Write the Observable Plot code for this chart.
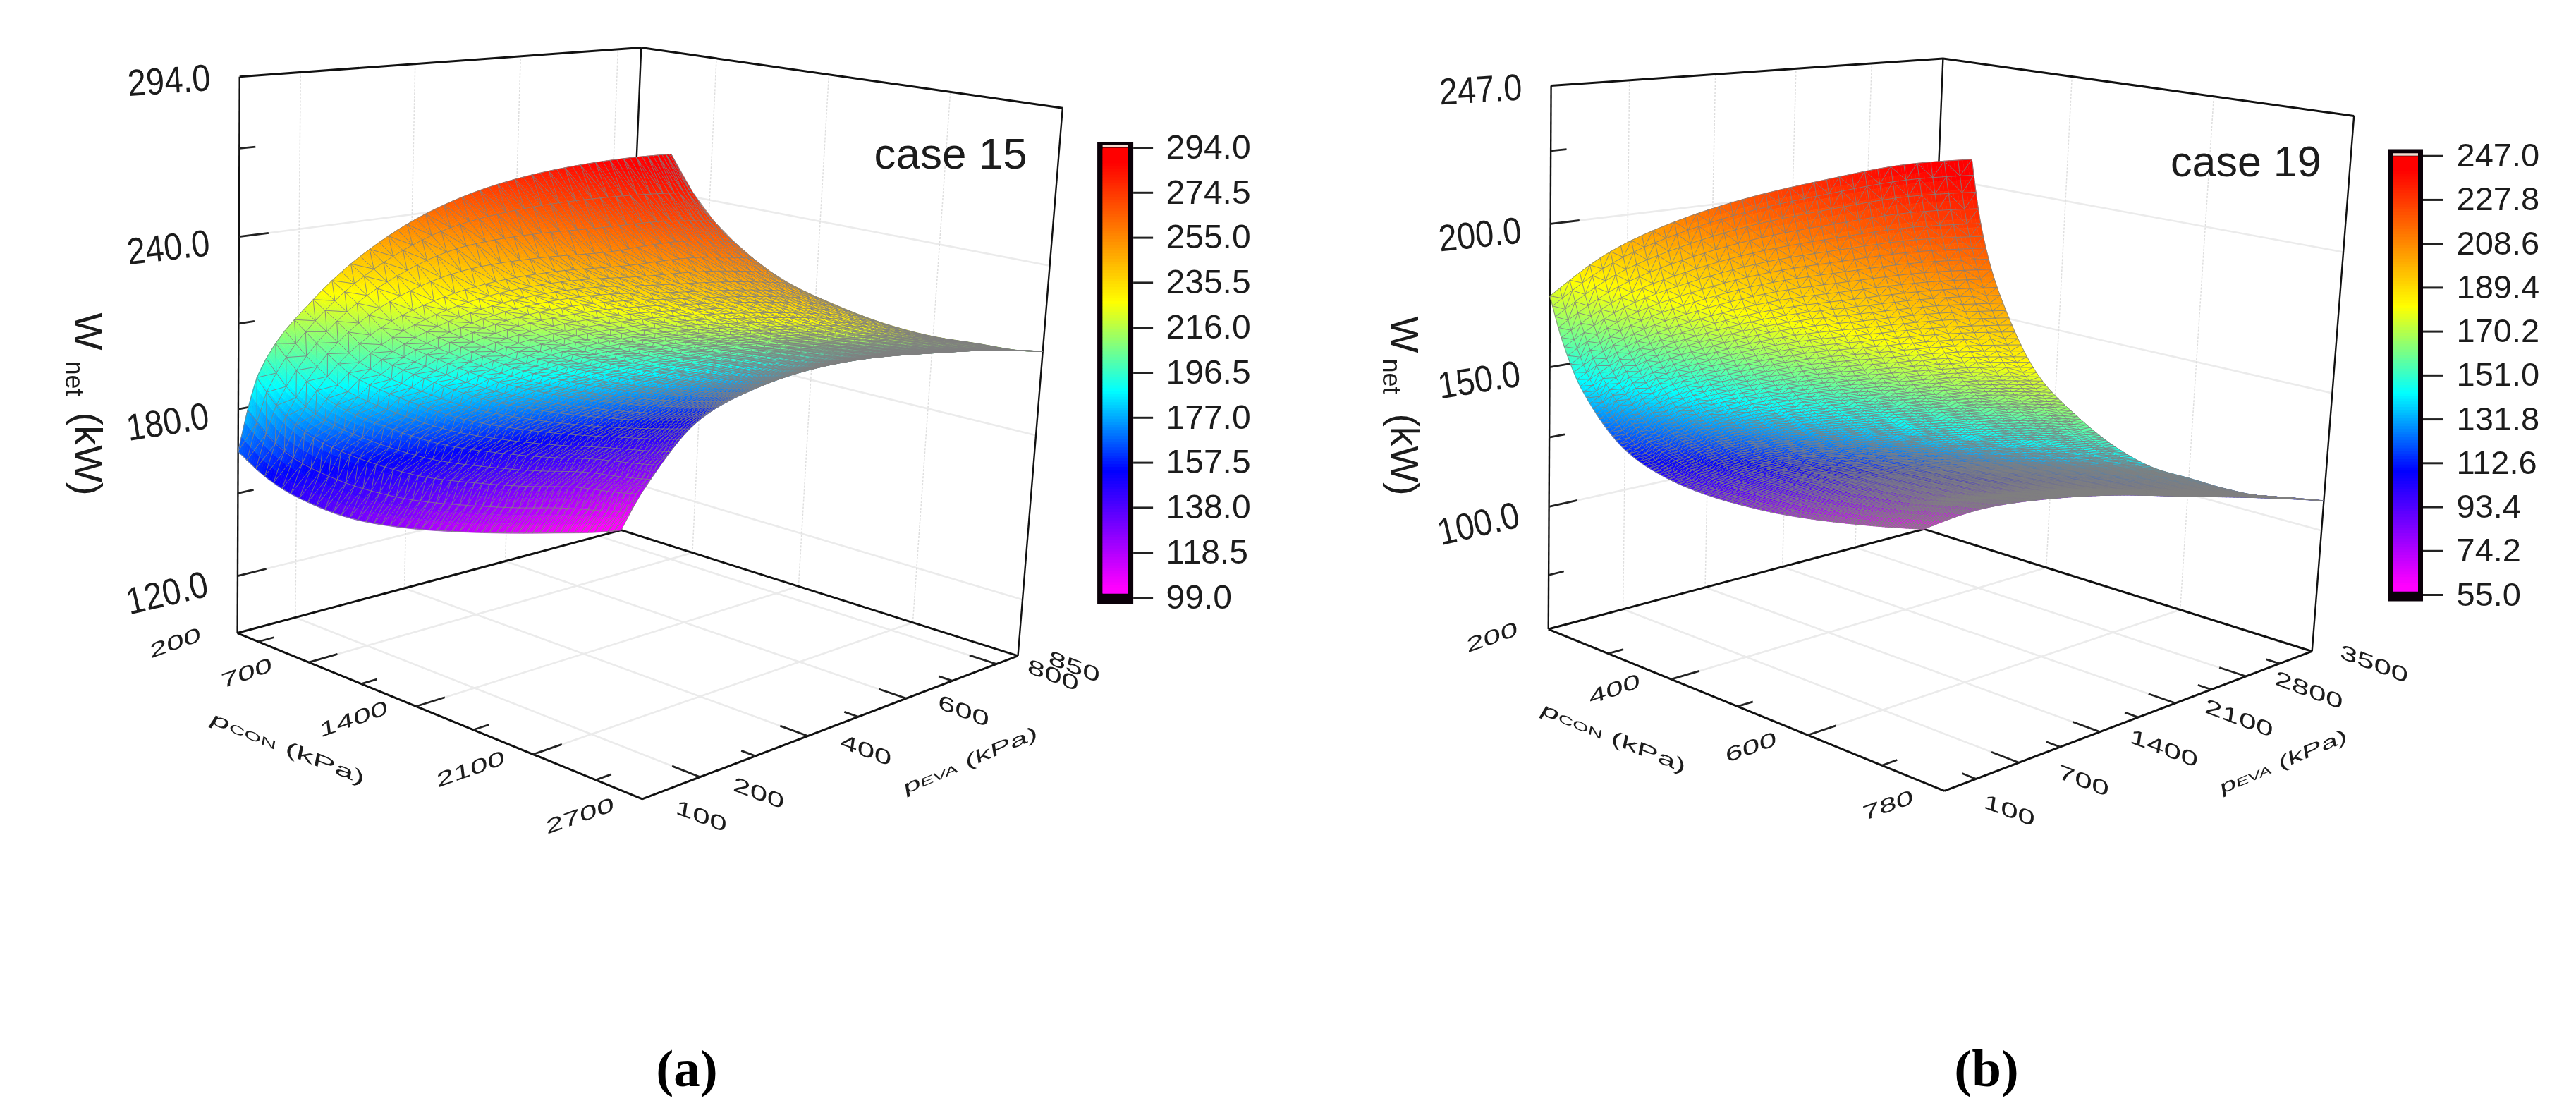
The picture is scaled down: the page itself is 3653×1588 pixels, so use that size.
<!DOCTYPE html>
<html><head><meta charset="utf-8">
<script src="https://cdn.jsdelivr.net/npm/d3@7"></script>
<script src="https://cdn.jsdelivr.net/npm/@observablehq/plot@0.6"></script>
<style>
html,body{margin:0;padding:0;background:#fff;width:3653px;height:1588px;overflow:hidden}
#row{position:absolute;left:0;top:0;width:3653px;height:1588px}
#row svg{position:absolute;top:0;background:transparent;filter:blur(.7px)}
.cap{position:absolute;top:1477px;font:bold 75px/1 "Liberation Serif",serif;color:#000;transform:translateX(-50%)}
</style></head><body><div id="row"></div>
<div class="cap" style="left:974px">(a)</div><div class="cap" style="left:2817px">(b)</div>
<script>
// ---- panel (a), case 15 ----
const pconA=[200,350,700,1050,1400,1750,2100,2450,2700];
const pevaA=[100,150,200,300,400,500,600,700,800,850];
const wA=[
[165,196,225,246,262,274,283,290,294],
[153,180,214,235,250,260,268,275,279],
[144,170,203,223,237,247,255,264,268],
[131,157,190,210,224,234,241,248,252],
[122.5,147,179.4,199,212.6,223,231,237.5,241],
[116,140,171.5,190.6,204,214,221.5,228,231.6],
[110.4,134,165,183.7,196.7,206.7,214,220.6,224],
[105.4,129,159.4,178,191,200.9,208.2,214.6,218],
[100.7,122,155,173,186,195.5,203,208.7,212],
[99,119,153,171,184,193.5,200.5,206.7,210]];
const zDomainA=[99,294];
const pconTicksA=[350,700,1050,1400,1750,2100,2450];
const pconMajorA=[700,1400,2100];
const pconLabelsA=[200,700,1400,2100,2700];
const pevaTicksA=[200,300,400,500,600,700,800];
const pevaMajorA=[200,400,600,800];
const pevaLabelsA=[100,200,400,600,800,850];
const zTicksA=[120,150,180,210,240,270];
const zMajorA=[120,180,240];
const zLabelsA=[120,180,240,294];
const zTiltA=[13,9,6.5,4];
const cbarA=[99,118.5,138,157.5,177,196.5,216,235.5,255,274.5,294];
const cornersA=[[336,896],[911,1133],[1443,929],[880,752],[339,107],[909.5,68],[1506,151],[951,220]];

// ---- panel (b), case 19 ----
const pconB=[200,300,400,500,600,700,780];
const pevaB=[100,200,350,700,1050,1400,1750,2100,2450,2800,3150,3500];
const wB=[
[175,196,211,223,233,242,247],
[158,178,192,203.5,212.7,221,226],
[140,160,173.5,184.6,193.3,201.6,207],
[115,134,147,157.6,165.9,173.9,179],
[101,119.6,132,142.2,150.3,158,163],
[91,108.7,120.5,130.2,137.9,145.3,150],
[83,100,111.5,120.9,128.3,135.4,140],
[76,93,104.5,113.9,121.3,128.4,133],
[70,86.8,98,107.2,114.5,121.5,126],
[64.6,81,92,101.2,108.5,115.5,120],
[59.6,76.5,87.5,96.5,104,111,115.6],
[55,71.6,83,92,99,106,111]];
const zDomainB=[55,247];
const pconTicksB=[300,400,500,600,700];
const pconMajorB=[400,600];
const pconLabelsB=[200,400,600,780];
const pevaTicksB=[350,700,1050,1400,1750,2100,2450,2800,3150];
const pevaMajorB=[700,1400,2100,2800];
const pevaLabelsB=[100,700,1400,2100,2800,3500];
const zTicksB=[75,100,125,150,175,200,225];
const zMajorB=[100,150,200];
const zLabelsB=[100,150,200,247];
const zTiltB=[13,9,6,3.5];
const cbarB=[55,74.2,93.4,112.6,131.8,151,170.2,189.4,208.6,227.8,247];
const cornersB=[[2195,891],[2757,1121],[3278,923],[2728,750],[2199,120.5],[2755,83],[3337.5,163],[2796,226.5]];

const zLabelDrop=[25,19,16,6.5];
const cornerUVW=[[0,0,0],[1,0,0],[1,1,0],[0,1,0],[0,0,1],[0,1,1],[1,1,1],[1,0,1]];
const colorFrac=[0.025,0.285,0.463,0.66,0.97];
const colorStops=["#ff00ff","#0000ff","#00ffff","#ffff00","#ff0000"];

function solveCamera(px){
  const A=[],B=[];
  cornerUVW.forEach(([u,v,w],i)=>{
    const x=px[i][0]/1000,y=px[i][1]/1000;
    A.push([u,v,w,1,0,0,0,0,-x*u,-x*v,-x*w]);B.push(x);
    A.push([0,0,0,0,u,v,w,1,-y*u,-y*v,-y*w]);B.push(y);
  });
  const n=11,M=d3.range(n).map(i=>d3.range(n+1).map(j=>{
    let s=0;A.forEach((r,k)=>{s+=r[i]*(j<n?r[j]:B[k]);});return s;}));
  for(let c=0;c<n;c++){
    let p=c;for(let r=c+1;r<n;r++)if(Math.abs(M[r][c])>Math.abs(M[p][c]))p=r;
    [M[c],M[p]]=[M[p],M[c]];
    for(let r=0;r<n;r++){if(r===c)continue;const f=M[r][c]/M[c][c];for(let j=c;j<=n;j++)M[r][j]-=f*M[c][j];}
  }
  const a=M.map((r,i)=>r[n]/r[i]);
  return (u,v,w)=>{const d=a[8]*u+a[9]*v+a[10]*w+1;
    return [1000*(a[0]*u+a[1]*v+a[2]*w+a[3])/d,1000*(a[4]*u+a[5]*v+a[6]*w+a[7])/d];};
}
// monotone Hermite shading between the read values
function mono(xs,ys){
  const n=xs.length,d=[],m=[];
  for(let i=0;i<n-1;i++)d.push((ys[i+1]-ys[i])/(xs[i+1]-xs[i]));
  for(let i=1;i<n-1;i++)m[i]=d[i-1]*d[i]<=0?0:2*d[i-1]*d[i]/(d[i-1]+d[i]);
  const end=(dd,mm)=>dd<0?Math.min(0,1.5*dd-.5*mm):Math.max(0,1.5*dd-.5*mm);
  m[0]=end(d[0],m[1]);m[n-1]=end(d[n-2],m[n-2]);
  return x=>{
    const i=Math.min(n-2,Math.max(0,d3.bisectRight(xs,x)-1));
    const h=xs[i+1]-xs[i],t=(x-xs[i])/h,t2=t*t,t3=t2*t;
    return (2*t3-3*t2+1)*ys[i]+(t3-2*t2+t)*h*m[i]+(-2*t3+3*t2)*ys[i+1]+(t3-t2)*h*m[i+1];
  };
}
function panel(o){
  const cam=solveCamera(o.corners),ox=o.ox;
  const [p0,p1]=d3.extent(o.pcon),[v0,v1]=d3.extent(o.peva),[z0,z1]=o.z;
  const U=p=>(p-p0)/(p1-p0),V=v=>(v-v0)/(v1-v0),Z=w=>(w-z0)/(z1-z0);
  const P=(u,v,w)=>{const q=cam(u,v,w);return [q[0]-ox,q[1]];};
  const seg=(a,b)=>{const s=P(...a),t=P(...b);return {x1:s[0],y1:s[1],x2:t[0],y2:t[1]};};
  const colFns=o.pcon.map((_,c)=>mono(o.peva,o.w.map(r=>r[c])));
  const surf=(u,v)=>{
    const row=mono(o.pcon,colFns.map(f=>f(v0+(v1-v0)*v)));
    const w=row(p0+(p1-p0)*u);
    return {w,q:P(u,v,Z(w))};
  };
  // smooth shading cells
  const NF=110,cells=[];
  const nodes=d3.range(NF+1).map(j=>{const t=j/NF,tt=t*t*(.6)+t*.4;return d3.range(NF+1).map(i=>surf(i/NF,tt));});
  for(let j=0;j<NF;j++)for(let i=0;i<NF;i++){
    const a=nodes[j][i],b=nodes[j][i+1],c=nodes[j+1][i+1],d=nodes[j+1][i];
    cells.push({type:"Feature",properties:{w:(a.w+b.w+c.w+d.w)/4},
      geometry:{type:"Polygon",coordinates:[[a.q,b.q,c.q,d.q,a.q]]}});
  }
  // triangular wire mesh
  const Ns=o.ns,Nt=o.nt,mn=d3.range(Nt+1).map(j=>d3.range(Ns+1).map(i=>{const [u,v]=o.warp(i/Ns,j/Nt);return surf(u,v).q;}));
  const lines=[];
  for(let j=0;j<=Nt;j++)lines.push(mn[j]);
  for(let i=0;i<=Ns;i++)lines.push(mn.map(r=>r[i]));
  for(let j=0;j<Nt;j++){
    const z=[];
    for(let i=0;i<=Ns;i++){z.push(mn[j+(i%2)][i]);}
    lines.push(z);
  }
  const wire={type:"MultiLineString",coordinates:lines};
  // grid
  const grid=[],gridV=[];
  o.pconMajor.forEach(p=>{const u=U(p);grid.push(seg([u,0,0],[u,1,0]));gridV.push(seg([u,1,0],[u,1,1]));});
  o.pevaMajor.forEach(v=>{const t=V(v);grid.push(seg([0,t,0],[1,t,0]));gridV.push(seg([0,t,0],[0,t,1]));});
  o.zMajor.forEach(z=>{const t=Z(z);grid.push(seg([0,0,t],[0,1,t]),seg([0,1,t],[1,1,t]));});
  const box=[[[0,0,0],[1,0,0]],[[1,0,0],[1,1,0]],[[1,1,0],[0,1,0]],[[0,1,0],[0,0,0]],
             [[0,0,1],[0,1,1]],[[0,1,1],[1,1,1]]].map(e=>seg(...e));
  const verts=[[[0,0,0],[0,0,1]],[[0,1,0],[0,1,1]],[[1,1,0],[1,1,1]]].map(e=>seg(...e));
  const isMaj=(arr,t)=>arr.includes(t);
  const ticks=[];
  o.pconTicks.forEach(p=>ticks.push(seg([U(p),0,0],[U(p),isMaj(o.pconMajor,p)?.065:.035,0])));
  o.pevaTicks.forEach(v=>ticks.push(seg([1,V(v),0],[isMaj(o.pevaMajor,v)?.94:.97,V(v),0])));
  o.zTicks.forEach(z=>ticks.push(seg([0,0,Z(z)],[0,isMaj(o.zMajor,z)?.065:.035,Z(z)])));
  // labels
  const pconL=o.pconLabels.map(p=>{const q=P(U(p),-o.pconOff,0);return {t:String(p),x:q[0],y:q[1]};});
  const pevaL=o.pevaLabels.map(v=>{const q=P(1+o.pevaOff,V(v),0);return {t:String(v),x:q[0],y:q[1]};});
  const zL=o.zLabels.map((z,i)=>{const q=P(0,0,Z(z));return {t:z.toFixed(1),x:q[0]-100,y:q[1]+zLabelDrop[i],r:-o.zTilt[i]};});
  // colour bar
  const L=o.layout,cb=L.cbar;
  const yBar=d3.scaleLinear(o.z,[cb.yMin,cb.yMax]);
  const rect=(x1,x2,y1,y2,w)=>({type:"Feature",properties:{w},geometry:{type:"Polygon",
    coordinates:[[[x1-ox,y1],[x2-ox,y1],[x2-ox,y2],[x1-ox,y2],[x1-ox,y1]]]}});
  const levels=d3.range(0,160).map(i=>{const w=z0+(z1-z0)*(i+.5)/160;
    return rect(cb.x1+cb.b,cb.x2-cb.b,Math.max(yBar(w+(z1-z0)/160),cb.yMax),Math.min(yBar(w-(z1-z0)/160),cb.bottomInner),w);});
  const cticks=o.cbar.map(w=>({x1:cb.x2-ox,x2:cb.x2+cb.tick-ox,y1:yBar(w),y2:yBar(w)}));
  const clabels=o.cbar.map(w=>({t:w.toFixed(1),x:cb.labelX-ox,y:yBar(w)}));
  const shift=a=>a.map(d=>({...d,x:d.x-ox}));
  const sans={fontFamily:"Liberation Sans",fill:"#1c1c1c"};
  const svg=Plot.plot({
    width:o.width,height:1588,margin:0,style:{background:"transparent"},
    projection:d3.geoIdentity(),
    color:{type:"linear",domain:colorFrac.map(f=>z0+f*(z1-z0)),range:colorStops,interpolate:"rgb",clamp:true},
    marks:[
      Plot.link(grid,{x1:"x1",y1:"y1",x2:"x2",y2:"y2",stroke:"#ebebeb",strokeWidth:2.6}),
      Plot.link(gridV,{x1:"x1",y1:"y1",x2:"x2",y2:"y2",stroke:"#dedede",strokeWidth:1.5,strokeDasharray:"3,2"}),
      Plot.link(verts,{x1:"x1",y1:"y1",x2:"x2",y2:"y2",stroke:"#111",strokeWidth:2.4}),
      Plot.link(box,{x1:"x1",y1:"y1",x2:"x2",y2:"y2",stroke:"#111",strokeWidth:3}),
      Plot.link(ticks,{x1:"x1",y1:"y1",x2:"x2",y2:"y2",stroke:"#222",strokeWidth:2.8}),
      Plot.geo(cells,{fill:d=>d.properties.w,stroke:d=>d.properties.w,strokeWidth:.7}),
      Plot.geo([wire],{stroke:"#808080",strokeWidth:o.wireWidth,strokeOpacity:.9}),
      // colour bar
      Plot.geo([rect(cb.x1,cb.x2,cb.top,cb.bottom,0)],{fill:"#0a0008"}),
      Plot.geo(levels,{fill:d=>d.properties.w}),
      Plot.geo([rect(cb.x1+cb.b,cb.x2-cb.b,cb.yMax-4,cb.yMax-.5,0)],{fill:"#f6dcd0"}),
      Plot.link(cticks,{x1:"x1",y1:"y1",x2:"x2",y2:"y2",stroke:"#222",strokeWidth:3}),
      Plot.text(clabels,{x:"x",y:"y",text:"t",textAnchor:"start",fontSize:L.cbarFont,...sans}),
      Plot.text(zL,{x:"x",y:"y",text:"t",rotate:"r",fontSize:47,...sans}),
      Plot.text(pconL,{x:"x",y:"y",text:"t",fontSize:36,...sans}),
      Plot.text(pevaL,{x:"x",y:"y",text:"t",fontSize:36,...sans}),
      Plot.text(shift([L.pconTitle]),{x:"x",y:"y",text:"t",fontSize:36,...sans}),
      Plot.text(shift([L.pevaTitle]),{x:"x",y:"y",text:"t",fontSize:36,...sans}),
      Plot.text(shift(L.wTitle),{x:"x",y:"y",text:"t",fontSize:"s",rotate:90,textAnchor:"start",lineAnchor:"bottom",...sans}),
      Plot.text(shift([L.caseLabel]),{x:"x",y:"y",text:"t",fontSize:L.caseLabel.s,textAnchor:"start",lineAnchor:"bottom",...sans})
    ]
  });
  svg.style.left=ox+"px";
  const groups=[...svg.children].filter(g=>g.querySelector&&g.querySelector("text"));
  const [gC,gZ,gPc,gPe,gTc,gTe]=groups;
  const warp=(g,m,sub)=>g.querySelectorAll("text").forEach(t=>{
    let x=+t.getAttribute("x")||0,y=+t.getAttribute("y")||0;
    const tr=/translate\(([-\d.e]+),\s*([-\d.e]+)\)/.exec(t.getAttribute("transform")||"");
    if(tr){x+=+tr[1];y+=+tr[2];}
    t.removeAttribute("x");t.removeAttribute("y");
    t.setAttribute("transform",`translate(${x},${y}) matrix(${m.join(",")},0,0)`);
    if(sub){const s=t.textContent;
      t.textContent="";
      const NS="http://www.w3.org/2000/svg";
      const a=document.createElementNS(NS,"tspan");a.textContent="p";if(sub.italic)a.setAttribute("font-style","italic");
      const b=document.createElementNS(NS,"tspan");b.textContent=s.slice(1,4);b.setAttribute("font-size","23");
      const c=document.createElementNS(NS,"tspan");c.textContent=s.slice(4);
      t.append(a,b,c);}
  });
  warp(gPc,[1.2,-.42,.1,.8]);
  warp(gPe,[1.2,.45,-.12,.8]);
  warp(gTc,L.pconTitle.m,{italic:true});
  warp(gTe,L.pevaTitle.m,{italic:false});
  gZ.querySelectorAll("text").forEach(t=>t.setAttribute("transform",(t.getAttribute("transform")||"")+" scale(1,1.13)"));
  return svg;
}
const row=document.getElementById("row");
row.append(panel({ox:0,width:1826,ns:54,nt:50,wireWidth:.95,
  warp:(s,t)=>{const u=1-Math.pow(1-s,1.4);return [u,1-Math.pow(1-t,1+1.6*u)];},
  corners:cornersA,pcon:pconA,peva:pevaA,w:wA,z:zDomainA,
  pconTicks:pconTicksA,pconMajor:pconMajorA,pconLabels:pconLabelsA,pconOff:.135,
  pevaTicks:pevaTicksA,pevaMajor:pevaMajorA,pevaLabels:pevaLabelsA,pevaOff:.12,
  zTicks:zTicksA,zMajor:zMajorA,zLabels:zLabelsA,zTilt:zTiltA,cbar:cbarA,
  layout:{cbarFont:48,
    cbar:{x1:1555.6,x2:1606.6,b:7.5,top:200.8,bottom:855.5,bottomInner:841,yMin:847,yMax:209,tick:28,labelX:1653},
    pconTitle:{t:"pCON (kPa)",x:406,y:1069,m:[1.3,.52,-.15,.72]},
    pevaTitle:{t:"pEVA (kPa)",x:1377,y:1086,m:[1.18,-.5,.12,.72]},
    wTitle:[{t:"W",x:105,y:443,s:56},{t:"net",x:92,y:511,s:36},{t:"(kW)",x:105,y:584,s:56}],
    caseLabel:{t:"case 15",x:1239,y:238,s:62}}}));
row.append(panel({ox:1826,width:1827,ns:36,nt:118,wireWidth:.95,
  warp:(s,t)=>[s,Math.pow(t,1.08)],
  corners:cornersB,pcon:pconB,peva:pevaB,w:wB,z:zDomainB,
  pconTicks:pconTicksB,pconMajor:pconMajorB,pconLabels:pconLabelsB,pconOff:.125,
  pevaTicks:pevaTicksB,pevaMajor:pevaMajorB,pevaLabels:pevaLabelsB,pevaOff:.135,
  zTicks:zTicksB,zMajor:zMajorB,zLabels:zLabelsB,zTilt:zTiltB,cbar:cbarB,
  layout:{cbarFont:47,
    cbar:{x1:3386.5,x2:3435.5,b:7,top:211,bottom:852,bottomInner:838,yMin:843,yMax:220.7,tick:28,labelX:3483},
    pconTitle:{t:"pCON (kPa)",x:2286,y:1054,m:[1.22,.5,-.15,.72]},
    pevaTitle:{t:"pEVA (kPa)",x:3239,y:1088,m:[1.12,-.47,.12,.72]},
    wTitle:[{t:"W",x:1972,y:448,s:55},{t:"net",x:1960,y:508,s:36},{t:"(kW)",x:1972,y:586,s:55}],
    caseLabel:{t:"case 19",x:3077.5,y:249,s:61}}}));
</script></body></html>
